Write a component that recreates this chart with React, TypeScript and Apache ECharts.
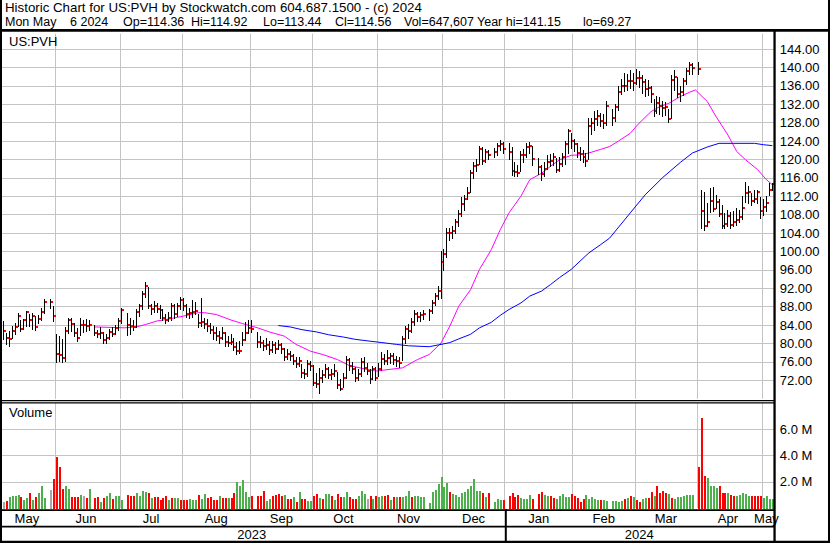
import React, { useEffect, useRef } from 'react';
import * as echarts from 'echarts';

const FONT = '"Liberation Sans", Arial, sans-serif';
const MONTH_NAMES = ['Jan', 'Feb', 'Mar', 'Apr', 'May', 'Jun', 'Jul', 'Aug', 'Sep', 'Oct', 'Nov', 'Dec'];
const START_DATE = [2023, 4, 8];
const END_DATE = [2024, 4, 6];

const HEADER_LINE1 = 'Historic Chart for US:PVH by Stockwatch.com 604.687.1500 - (c) 2024';
const HEADER_LINE2 = ['Mon May', '6 2024', 'Op=114.36', 'Hi=114.92', 'Lo=113.44', 'Cl=114.56', 'Vol=647,607', 'Year hi=141.15', 'lo=69.27'];
const SYMBOL_LABEL = 'US:PVH';
const VOLUME_LABEL = 'Volume';

// Daily bars, one slot per weekday: [high, low, close]; null = market closed
const pxMay23 = [
  [84.9, 80.9, 82.7], [82.3, 79.8, 81.2], [82.7, 79.4, 80.9], [83.8, 81.2, 82.7], [84.5, 82.0, 83.6],
  [86.7, 83.8, 85.9], [85.2, 82.8, 83.1], [85.4, 83.2, 85.1], [87.0, 83.8, 86.8], [86.3, 83.8, 85.2],
  [86.7, 83.2, 85.9], [86.0, 83.0, 83.6], [86.2, 84.4, 85.4], [87.7, 85.2, 86.8], [89.6, 86.7, 89.0],
  null, [89.7, 87.7, 89.0], [88.1, 84.9, 85.9],
];
const pxJun23 = [
  [82.0, 76.0, 77.7], [81.6, 76.2, 77.5], [80.9, 76.0, 76.8], [83.6, 76.2, 82.7], [85.6, 82.3, 85.2],
  [85.6, 82.7, 84.3], [84.5, 81.6, 82.2], [83.4, 80.5, 81.2], [85.5, 81.8, 84.1], [85.0, 82.6, 84.1],
  [85.3, 82.8, 83.9], [85.0, 83.0, 84.1], null, [84.0, 81.8, 82.2], [83.0, 81.5, 82.0],
  [83.6, 81.2, 82.3], [82.5, 80.0, 80.7], [82.0, 80.2, 81.1], [83.2, 81.0, 82.5], [83.5, 81.6, 82.1],
  [84.0, 82.0, 83.3], [85.6, 83.0, 84.9],
];
const pxJul23 = [
  [87.8, 84.5, 87.2], null, [86.7, 81.8, 84.1], [85.5, 82.0, 83.8], [85.0, 83.0, 83.6],
  [87.5, 83.5, 86.9], [88.5, 86.0, 88.1], [91.5, 87.6, 90.8], [93.3, 90.0, 92.6], [92.2, 87.8, 88.1],
  [88.6, 86.3, 87.4], [89.3, 86.8, 88.2], [88.8, 86.8, 87.4], [88.4, 85.6, 87.2], [87.5, 85.0, 85.6],
  [86.5, 84.5, 85.2], [86.8, 84.8, 85.6], [88.7, 85.2, 88.1], [88.5, 85.6, 86.5], [88.9, 86.0, 88.1],
  [90.2, 87.4, 89.5],
];
const pxAug23 = [
  [89.8, 87.3, 88.2], [88.5, 85.8, 86.3], [87.8, 85.5, 86.7], [89.5, 85.7, 86.8], [89.0, 86.4, 87.0],
  [86.5, 83.5, 84.5], [89.8, 83.9, 84.7], [85.6, 83.3, 84.2], [85.3, 82.8, 83.8], [84.5, 82.2, 83.0],
  [83.9, 81.0, 82.3], [83.5, 80.8, 81.7], [82.8, 80.2, 81.1], [83.6, 81.0, 82.3], [82.6, 79.5, 80.3],
  [81.6, 79.4, 80.2], [82.0, 79.8, 80.4], [81.2, 78.6, 79.3], [80.4, 77.7, 78.3], [80.5, 77.9, 78.3],
  [82.4, 79.6, 80.7], [84.6, 80.8, 82.3], [85.2, 82.2, 83.4],
];
const pxSep23 = [
  [85.0, 82.4, 83.2], null, [82.6, 79.2, 80.4], [81.6, 79.2, 80.0], [80.8, 78.6, 79.4],
  [81.3, 78.9, 79.6], [80.5, 77.8, 78.5], [80.6, 78.2, 79.6], [80.4, 78.0, 78.8], [80.8, 78.8, 79.6],
  [80.2, 78.0, 78.8], [79.0, 76.4, 77.0], [78.8, 76.6, 77.8], [78.4, 76.4, 77.3], [77.8, 75.5, 76.2],
  [77.0, 74.8, 75.5], [77.0, 75.2, 76.3], [75.5, 72.8, 73.5], [74.5, 72.5, 73.3], [76.5, 73.0, 75.5],
  [76.3, 74.2, 75.1],
];
const pxOct23 = [
  [75.3, 71.0, 71.5], [73.5, 70.5, 71.3], [74.6, 69.27, 72.6], [74.3, 71.6, 73.1], [75.5, 72.8, 74.5],
  [74.8, 72.5, 73.1], [74.5, 72.2, 73.3], [75.5, 73.0, 74.1], [73.9, 70.3, 70.9], [72.2, 69.8, 70.2],
  [73.5, 70.5, 72.6], [77.2, 72.4, 76.5], [76.8, 74.3, 75.2], [76.0, 73.5, 74.5], [74.8, 71.8, 72.6],
  [74.5, 72.0, 73.4], [76.8, 73.0, 75.9], [77.0, 74.0, 74.7], [75.8, 73.4, 74.1], [74.5, 71.5, 72.2],
  [75.0, 72.3, 74.4], [74.8, 72.0, 72.6],
];
const pxNov23 = [
  [75.8, 73.0, 74.4], [78.2, 74.3, 76.7], [77.8, 75.6, 76.2], [78.5, 75.5, 76.9], [78.0, 75.8, 77.3],
  [78.0, 75.5, 76.5], [77.2, 75.0, 76.2], [77.0, 74.8, 75.8], [81.6, 76.5, 81.0], [83.7, 80.0, 83.2],
  [84.2, 81.2, 82.8], [85.5, 82.5, 84.6], [87.2, 84.0, 86.4], [86.8, 84.8, 85.7], [86.9, 84.9, 86.1],
  [87.2, 85.4, 86.5], null, [87.6, 85.0, 87.0], [89.5, 86.6, 88.7], [91.0, 88.4, 90.4],
  [92.5, 89.6, 91.4], [100.0, 89.8, 97.7],
];
const pxDec23 = [
  [100.6, 96.0, 99.5], [105.0, 98.8, 104.0], [105.2, 102.5, 104.0], [105.5, 103.0, 104.4], [107.0, 104.0, 106.3],
  [109.0, 105.5, 108.2], [111.8, 107.8, 110.4], [112.2, 109.0, 111.4], [114.0, 111.5, 112.8], [117.8, 113.0, 117.0],
  [119.5, 116.0, 118.5], [120.0, 117.5, 118.7], [123.0, 119.0, 122.3], [122.8, 119.0, 119.7], [122.2, 119.5, 121.6],
  [122.0, 120.0, 121.0], null, [122.5, 120.6, 121.7], [123.6, 121.0, 123.0], [124.2, 122.0, 123.3],
  [123.8, 121.5, 122.2],
];
const pxJan24 = [
  null, [123.6, 120.0, 121.6], [122.8, 116.6, 117.5], [119.5, 116.5, 117.2], [118.8, 116.3, 117.0],
  [121.8, 117.5, 120.9], [122.3, 119.5, 120.9], [123.5, 120.5, 122.7], [123.8, 121.5, 122.9], [123.0, 118.8, 120.1],
  null, [120.3, 116.8, 118.3], [118.8, 115.5, 116.9], [119.5, 116.5, 117.9], [121.0, 118.0, 119.4],
  [121.2, 118.5, 119.6], [121.5, 118.8, 120.5], [120.3, 117.2, 117.8], [120.5, 117.5, 119.0], [121.5, 118.5, 120.5],
  [124.0, 119.0, 123.4], [126.6, 121.5, 126.1], [125.8, 122.5, 123.9],
];
const pxFeb24 = [
  [124.5, 121.8, 123.4], [123.5, 120.5, 121.4], [122.6, 119.8, 121.2], [122.0, 119.5, 120.6], [121.5, 118.5, 119.7],
  [129.0, 120.2, 127.2], [129.0, 125.5, 127.9], [130.5, 126.5, 128.8], [130.8, 127.5, 129.5], [130.2, 127.3, 128.4],
  [129.8, 126.8, 127.9], [132.8, 127.5, 131.6], null, [131.0, 127.5, 129.1], [132.0, 128.3, 131.3],
  [136.0, 130.8, 134.7], [137.5, 134.3, 136.0], [138.8, 134.8, 136.0], [138.5, 135.2, 137.1], [139.4, 135.5, 137.1],
  [138.8, 135.0, 136.6],
];
const pxMar24 = [
  [139.6, 136.5, 137.8], [139.2, 135.8, 137.8], [138.4, 134.5, 136.8], [137.5, 133.8, 135.3], [137.2, 134.0, 135.6],
  [136.0, 132.5, 134.2], [133.2, 129.5, 130.6], [133.8, 130.0, 132.2], [133.5, 129.8, 131.7], [132.8, 129.5, 131.1],
  [132.5, 129.6, 131.3], [131.0, 128.2, 128.8], [138.4, 129.0, 137.3], [139.5, 135.0, 138.0], [138.0, 133.5, 134.2],
  [136.0, 132.8, 134.7], [137.8, 134.0, 137.1], [139.8, 136.5, 139.3], [141.15, 138.5, 140.5], [141.0, 138.6, 139.8],
  null,
];
const pxApr24 = [
  [141.1, 138.6, 139.7], [113.4, 105.2, 108.7], [113.0, 104.7, 105.5], [110.5, 105.5, 106.5], [113.8, 108.5, 110.9],
  [114.0, 108.8, 109.3], [112.2, 109.5, 110.7], [111.3, 107.8, 108.1], [110.0, 105.0, 105.5], [108.3, 105.2, 106.0],
  [109.0, 105.5, 107.6], [108.5, 105.0, 105.7], [108.7, 105.5, 106.5], [109.5, 105.8, 106.9], [109.0, 106.5, 107.5],
  [112.0, 107.0, 109.4], [115.0, 110.8, 112.7], [114.2, 110.5, 112.9], [112.6, 110.0, 111.0], [113.3, 110.8, 111.5],
  [113.3, 110.5, 112.9], [111.8, 107.2, 108.7],
];
const pxMay24 = [[111.5, 108.0, 109.6], [112.0, 108.8, 110.5], [114.8, 112.2, 113.4], [114.92, 113.44, 114.56]];

// Daily volume in millions, one slot per weekday
const volMay23 = [0.43, 0.55, 0.81, 0.93, 0.93, 0.98, 0.81, 0.63, 0.73, 1.13, 0.63, 0.86, 1.18, 1.64, 0.78, null, 1.38, 2.19];
const volJun23 = [3.90, 3.09, 1.43, 1.69, 1.43, 0.86, 0.86, 0.86, 0.98, 0.93, 0.78, 1.43, null, 0.78, 0.86, 0.43, 0.78, 0.93, 1.13, 0.68, 0.93, 0.93];
const volJul23 = [0.63, null, 0.98, 0.93, 0.93, 1.13, 0.93, 1.31, 1.23, 1.18, 0.75, 0.81, 0.81, 0.63, 0.78, 0.88, 0.63, 0.73, 0.73, 0.75, 0.63];
const volAug23 = [0.63, 0.63, 0.68, 0.63, 0.63, 0.98, 0.68, 1.06, 0.78, 0.81, 0.63, 0.63, 0.88, 0.73, 0.78, 0.73, 0.78, 1.13, 1.99, 1.69, 2.14, 1.23, 0.81];
const volSep23 = [0.90, null, 0.93, 0.93, 1.31, 0.55, 0.68, 0.93, 0.98, 1.08, 0.93, 0.98, 0.68, 0.68, 0.86, 0.48, 1.23, 0.68, 0.68, 0.55, 0.55];
const volOct23 = [0.93, 1.08, 0.78, 0.68, 1.03, 1.03, 0.93, 0.63, 1.06, 0.81, 0.81, 1.23, 0.81, 0.68, 0.68, 0.93, 1.28, 1.03, 0.68, 0.93, 0.68, 0.93];
const volNov23 = [0.81, 0.88, 0.88, 0.98, 0.63, 0.81, 0.81, 0.81, 0.81, 0.88, 1.28, 0.83, 0.93, 0.88, 0.81, 0.81, null, 0.38, 1.23, 1.38, 1.86, 2.39];
const volDec23 = [1.61, 1.89, 1.23, 1.06, 0.98, 0.81, 1.18, 1.23, 1.43, 1.69, 2.24, 1.28, 1.28, 1.13, 0.81, 1.13, null, 0.48, 0.68, 0.63, 0.60];
const volJan24 = [null, 0.93, 1.13, 0.86, 0.98, 0.73, 0.68, 0.68, 0.98, 0.68, null, 1.06, 1.23, 0.98, 0.93, 0.88, 0.73, 0.68, 0.88, 1.06, 0.81, 0.81, 1.06];
const volFeb24 = [0.93, 0.73, 0.48, 0.68, 0.98, 0.68, 0.81, 0.68, 0.63, 0.63, 0.63, 0.55, null, 0.55, 0.53, 0.43, 0.55, 0.68, 0.73, 0.88, 0.81];
const volMar24 = [0.63, 0.43, 0.68, 0.78, 0.73, 1.23, 0.88, 1.69, 1.13, 1.31, 1.13, 1.06, 0.78, 0.68, 0.81, 0.81, 0.88, 0.98, 0.98, 0.98, null];
const volApr24 = [3.12, 6.89, 2.44, 2.29, 1.66, 1.64, 1.51, 1.69, 1.13, 1.13, 1.13, 0.98, 0.93, 0.88, 0.98, 1.18, 1.06, 0.88, 0.88, 0.88, 0.88, 0.93];
const volMay24 = [0.73, 0.88, 0.68, 0.65];

// Volume bar direction: g = up day, r = down day, n = unchanged, . = closed
const dirMay23 = 'nrggggrggrgrggg.nr';
const dirJun23 = 'rrrggrrrgnrg.rrgrggrgg';
const dirJul23 = 'g.rrrggggrgrrrrrgrggr';
const dirAug23 = 'rrgggrggrrrrgrrgrrggggg';
const dirSep23 = 'r.rrrggrrrrgrrgrgrrgg';
const dirOct23 = 'rrgrggrgrrggrrrgggnrgr';
const dirNov23 = 'ggrrgrgrgggrgggg.ggggg';
const dirDec23 = 'ggrggggggggggrgr.gggr';
const dirJan24 = '.rrrrggggr.rrggrrgggggr';
const dirFeb24 = 'rrrrgggggrgg.ggggrgrg';
const dirMar24 = 'rrggrrgrrrrgrggggggg.';
const dirApr24 = 'rrrggggrrrgrrgggggrrrr';
const dirMay24 = 'gggg';

// Moving averages: [weekday slot, value]
const maFast = [
  [31, 83.6], [41, 83.4], [45, 83.6], [48, 84.1], [52, 84.9], [55, 85.2], [59, 85.7], [62, 86.1], [66, 86.7],
  [68, 86.7], [72, 86.3], [77, 85.1], [81, 84.3], [86, 83.4], [90, 82.5], [95, 81.6], [99, 79.8], [104, 78.3],
  [108, 77.6], [113, 76.5], [117, 75.2], [122, 74.5], [126, 74.0], [131, 74.4], [135, 74.7], [140, 76.5],
  [144, 77.6], [148, 80.1], [151, 83.8], [154, 88.1], [158, 91.7], [161, 96.1], [165, 100.4], [168, 104.7],
  [171, 108.4], [175, 112.0], [178, 115.6], [182, 117.0], [185, 118.5], [188, 119.9], [192, 120.9], [195, 121.0],
  [198, 121.4], [202, 122.2], [205, 122.8], [208, 124.0], [212, 125.7], [215, 127.9], [219, 130.4], [222, 131.5],
  [225, 132.2], [229, 133.7], [232, 134.6], [234, 135.1], [238, 132.6], [241, 129.3], [245, 125.3], [248, 121.7],
  [251, 119.9], [255, 117.8], [258, 115.6], [260, 114.5],
];
const maSlow = [
  [93, 83.9], [97, 83.6], [101, 83.0], [106, 82.5], [110, 81.9], [115, 81.4], [119, 80.9], [124, 80.5], [128, 80.2],
  [133, 79.8], [137, 79.5], [144, 79.3], [148, 79.8], [151, 80.2], [154, 81.0], [158, 82.0], [161, 83.4], [165, 84.6],
  [168, 86.1], [171, 87.4], [175, 88.8], [178, 90.3], [182, 91.4], [185, 92.8], [188, 94.3], [192, 96.1], [195, 97.9],
  [198, 99.7], [202, 101.5], [205, 102.9], [212, 108.4], [217, 112.3], [223, 116.1], [229, 119.4], [233, 121.4],
  [238, 122.7], [242, 123.5], [247, 123.5], [254, 123.5], [257, 123.2], [260, 123.0],
];

const PRICE_MIN = 68;
const PRICE_MAX = 147.35;
const PRICE_STEP = 4;
const VOL_MAX = 8;
const VOL_STEP = 2;

// ---------- derived structures ----------
function weekdaySlots(): string[] {
  const out: string[] = [];
  const d = new Date(START_DATE[0], START_DATE[1], START_DATE[2]);
  const end = new Date(END_DATE[0], END_DATE[1], END_DATE[2]);
  while (d <= end) {
    const w = d.getDay();
    if (w !== 0 && w !== 6) {
      out.push(`${d.getFullYear()}-${String(d.getMonth() + 1).padStart(2, '0')}-${String(d.getDate()).padStart(2, '0')}`);
    }
    d.setDate(d.getDate() + 1);
  }
  return out;
}
const DATES = weekdaySlots();

const bars = [pxMay23, pxJun23, pxJul23, pxAug23, pxSep23, pxOct23, pxNov23, pxDec23, pxJan24, pxFeb24, pxMar24, pxApr24, pxMay24].flat();
const vols = [volMay23, volJun23, volJul23, volAug23, volSep23, volOct23, volNov23, volDec23, volJan24, volFeb24, volMar24, volApr24, volMay24].flat();
const dirs = [dirMay23, dirJun23, dirJul23, dirAug23, dirSep23, dirOct23, dirNov23, dirDec23, dirJan24, dirFeb24, dirMar24, dirApr24, dirMay24].join('');

const priceData: number[][] = [];
bars.forEach((b, i) => { if (b) priceData.push([i, b[0], b[1], b[2]]); });
const volData: number[][] = [];
vols.forEach((v, i) => {
  if (v != null) {
    const ch = dirs[i];
    volData.push([i, v, ch === 'g' ? 1 : ch === 'r' ? 2 : 0]);
  }
});

const monthStarts = new Set<number>();
const monthLabels = new Set<number>();
const yearLabels = new Set<number>();
(() => {
  let s = 0;
  for (let i = 1; i <= DATES.length; i++) {
    if (i === DATES.length || DATES[i].slice(0, 7) !== DATES[i - 1].slice(0, 7)) {
      monthLabels.add(Math.floor((s + i - 1) / 2));
      if (i < DATES.length) monthStarts.add(i);
      s = i;
    }
  }
  let ys = 0;
  for (let i = 1; i <= DATES.length; i++) {
    if (i === DATES.length || DATES[i].slice(0, 4) !== DATES[i - 1].slice(0, 4)) {
      yearLabels.add(Math.floor((ys + i - 1) / 2));
      ys = i;
    }
  }
})();

const VOL_COLORS = ['#A8A8A8', '#4CB04C', '#FF0000'];
const GRID_COLOR = '#C4C4C4';
const GRID_LEFT = 1.76;
const GRID_RIGHT = 56.2;

function buildOption(): any {
  const headerX = [5, 70, 123, 191, 263, 335, 404, 477, 583];
  const txt = (text: string, x: number, y: number, size: number) => ({
    type: 'text', z: 110,
    style: { text, x, y, fill: '#000', font: `${size}px ${FONT}`, textAlign: 'left', textVerticalAlign: 'top' },
  });
  const blk = (x: number, y: number, width: number, height: number) => ({
    type: 'rect', z: 100, shape: { x, y, width, height }, style: { fill: '#000' },
  });

  const catAxisBase = {
    type: 'category', data: DATES, boundaryGap: true,
    axisLine: { show: false }, axisTick: { show: false },
  };

  return {
    animation: false,
    backgroundColor: '#ffffff',
    textStyle: { fontFamily: FONT },
    grid: [
      { left: GRID_LEFT, right: GRID_RIGHT, top: 33.6, height: 365.1 },
      { left: GRID_LEFT, right: GRID_RIGHT, top: 403, height: 105 },
    ],
    xAxis: [
      {
        ...catAxisBase, gridIndex: 0,
        axisLabel: { show: false },
        splitLine: { show: true, interval: (i: number) => monthStarts.has(i), lineStyle: { color: GRID_COLOR, width: 1 } },
      },
      {
        ...catAxisBase, gridIndex: 1, position: 'bottom',
        axisLabel: {
          show: true, interval: (i: number) => monthLabels.has(i),
          formatter: (v: string) => MONTH_NAMES[Number(v.slice(5, 7)) - 1],
          margin: 3, fontSize: 13, lineHeight: 15, color: '#000', fontFamily: FONT,
        },
        splitLine: { show: true, interval: (i: number) => monthStarts.has(i), lineStyle: { color: GRID_COLOR, width: 1 } },
      },
      {
        ...catAxisBase, gridIndex: 1, position: 'bottom', offset: 16,
        axisLabel: {
          show: true, interval: (i: number) => yearLabels.has(i),
          formatter: (v: string) => v.slice(0, 4),
          margin: 3, fontSize: 13, lineHeight: 15, color: '#000', fontFamily: FONT,
        },
        splitLine: { show: false },
      },
    ],
    yAxis: [
      {
        type: 'value', gridIndex: 0, position: 'right', min: PRICE_MIN, max: PRICE_MAX, interval: PRICE_STEP,
        axisLine: { show: false }, axisTick: { show: false },
        axisLabel: {
          margin: 6, fontSize: 13, color: '#000', fontFamily: FONT, showMinLabel: false, showMaxLabel: false,
          formatter: (v: number) => (Math.abs(v - Math.round(v)) < 1e-6 && v > PRICE_MIN && v < PRICE_MAX ? v.toFixed(2) : ''),
        },
        splitLine: { show: true, showMinLine: false, showMaxLine: false, lineStyle: { color: GRID_COLOR, width: 1 } },
      },
      {
        type: 'value', gridIndex: 1, position: 'right', min: 0, max: VOL_MAX, interval: VOL_STEP,
        axisLine: { show: false }, axisTick: { show: false },
        axisLabel: {
          margin: 6, fontSize: 13, color: '#000', fontFamily: FONT, showMinLabel: false, showMaxLabel: false,
          formatter: (v: number) => (v > 0 && v < VOL_MAX ? `${v.toFixed(1)} M` : ''),
        },
        splitLine: { show: true, showMinLine: false, showMaxLine: false, lineStyle: { color: GRID_COLOR, width: 1 } },
      },
    ],
    series: [
      {
        type: 'line', name: 'MA fast', xAxisIndex: 0, yAxisIndex: 0, data: maFast, showSymbol: false, symbol: 'none',
        lineStyle: { color: '#FF00FF', width: 1 }, z: 3, silent: true,
      },
      {
        type: 'line', name: 'MA slow', xAxisIndex: 0, yAxisIndex: 0, data: maSlow, showSymbol: false, symbol: 'none',
        lineStyle: { color: '#0000FF', width: 1 }, z: 3, silent: true,
      },
      {
        type: 'custom', name: 'Price', xAxisIndex: 0, yAxisIndex: 0, data: priceData, z: 5, silent: true,
        encode: { x: 0, y: [1, 2, 3] },
        renderItem: (_p: any, api: any) => {
          const i = api.value(0);
          const top = api.coord([i, api.value(1)]);
          const bot = api.coord([i, api.value(2)]);
          const cl = api.coord([i, api.value(3)]);
          const px = Math.floor(top[0]);
          return {
            type: 'group',
            children: [
              { type: 'line', shape: { x1: px + 0.5, y1: Math.round(top[1]), x2: px + 0.5, y2: Math.round(bot[1]) + 1 }, style: { stroke: '#000', lineWidth: 1 } },
              { type: 'rect', shape: { x: px + 1, y: Math.round(cl[1]) - 1, width: 2, height: 2 }, style: { fill: '#FF0000' } },
            ],
          };
        },
      },
      {
        type: 'custom', name: 'Volume', xAxisIndex: 1, yAxisIndex: 1, data: volData, z: 5, silent: true,
        encode: { x: 0, y: 1 },
        renderItem: (_p: any, api: any) => {
          const i = api.value(0);
          const t = api.coord([i, api.value(1)]);
          const b = api.coord([i, 0]);
          const px = Math.floor(t[0]);
          const yt = Math.round(t[1]);
          return {
            type: 'rect',
            shape: { x: px, y: yt, width: 2, height: Math.round(b[1]) - yt + 1 },
            style: { fill: VOL_COLORS[api.value(2)] },
          };
        },
      },
    ],
    graphic: [
      blk(0, 0, 2, 543),
      blk(828, 0, 2, 543),
      blk(0, 29, 830, 2.7),
      blk(0, 400, 775, 1.3),
      blk(0, 402.3, 775, 1.2),
      blk(773.4, 29, 2.3, 514),
      blk(0, 509.2, 775, 1.8),
      blk(0, 525.8, 775, 1.6),
      blk(0, 540.8, 830, 2.2),
      blk(504.8, 509, 2, 33),
      txt(HEADER_LINE1, 5, 0.8, 13.3),
      ...HEADER_LINE2.map((t, k) => txt(t, headerX[k], 15.6, 12.5)),
      txt(SYMBOL_LABEL, 9, 35, 13),
      txt(VOLUME_LABEL, 9, 406, 13),
    ],
  };
}

export default function App() {
  const ref = useRef<HTMLDivElement>(null);
  useEffect(() => {
    if (!ref.current) return;
    const chart = echarts.init(ref.current, null, { renderer: 'svg', width: 830, height: 543 });
    chart.setOption(buildOption());
    return () => chart.dispose();
  }, []);
  return (
    <div
      ref={ref}
      style={{ position: 'fixed', left: 0, top: 0, width: 830, height: 543, background: '#fff' }}
    />
  );
}
